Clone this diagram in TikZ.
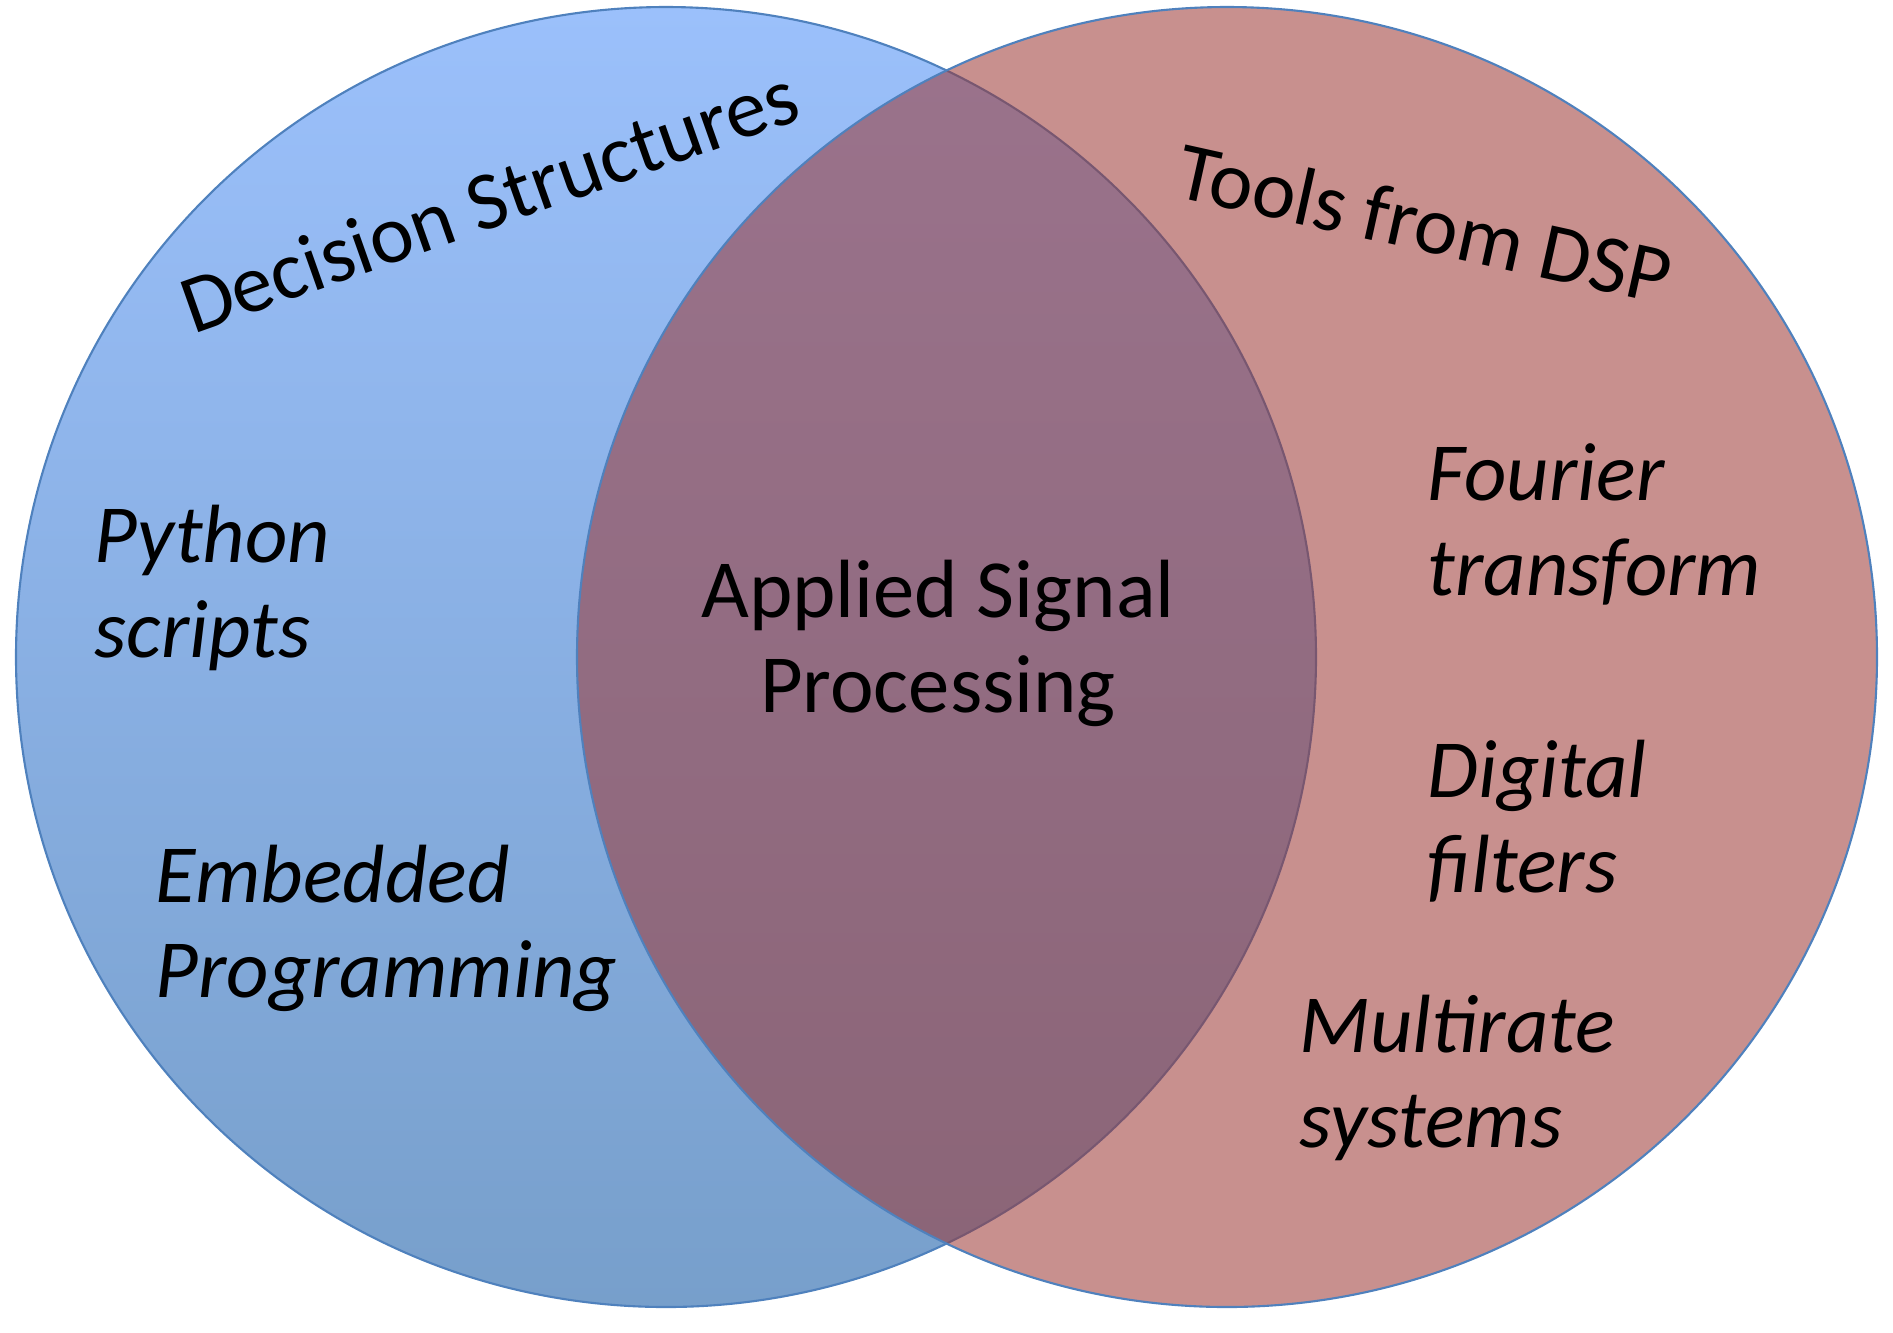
\documentclass[tikz,border=0pt]{standalone}
\usepackage{fontspec}
\setmainfont{Carlito}
\definecolor{dsblue}{HTML}{9BC0FB}
\definecolor{dsbluedark}{HTML}{779FCB}
\definecolor{dspred}{HTML}{9B3532}
\definecolor{edgeblue}{HTML}{4F81BD}

\begin{document}
\begin{tikzpicture}[x=0.01cm, y=-0.01cm]
                \tikzset{topic/.style={font=\fontsize{23.5}{27}\selectfont\itshape, align=left, inner sep=0pt},
                         head/.style={font=\fontsize{23.5}{27}\selectfont},
                         rim/.style={draw=edgeblue, line width=0.6pt}}
                \useasboundingbox (0, 0) rectangle (1893, 1332);
                % the two sets
                \shade[top color=dsblue, bottom color=dsbluedark] (666, 657) circle (650);
                \draw[rim] (666, 657) circle (650);
                \fill[dspred, fill opacity=0.55] (1227, 657) circle (650);
                \draw[rim] (1227, 657) circle (650);
                % labels
                \node[head, rotate=19.5] (DS) at (489, 200) {Decision Structures};
                \node[head, rotate=-12.5] (DSP) at (1425, 223) {Tools from DSP};
                \node[head, align=center] (ASP) at (938, 643) {Applied Signal\\Processing};
                \node[topic, anchor=west] (PY) at (94, 588) {Python\\scripts};
                \node[topic, anchor=west] (EP) at (155, 928) {Embedded\\Programming};
                \node[topic, anchor=west] (FT) at (1427, 524) {Fourier\\transform};
                \node[topic, anchor=west] (DF) at (1427, 821) {Digital\\filters};
                \node[topic, anchor=west] (MS) at (1299, 1078) {Multirate\\systems};
\end{tikzpicture}
\end{document}
